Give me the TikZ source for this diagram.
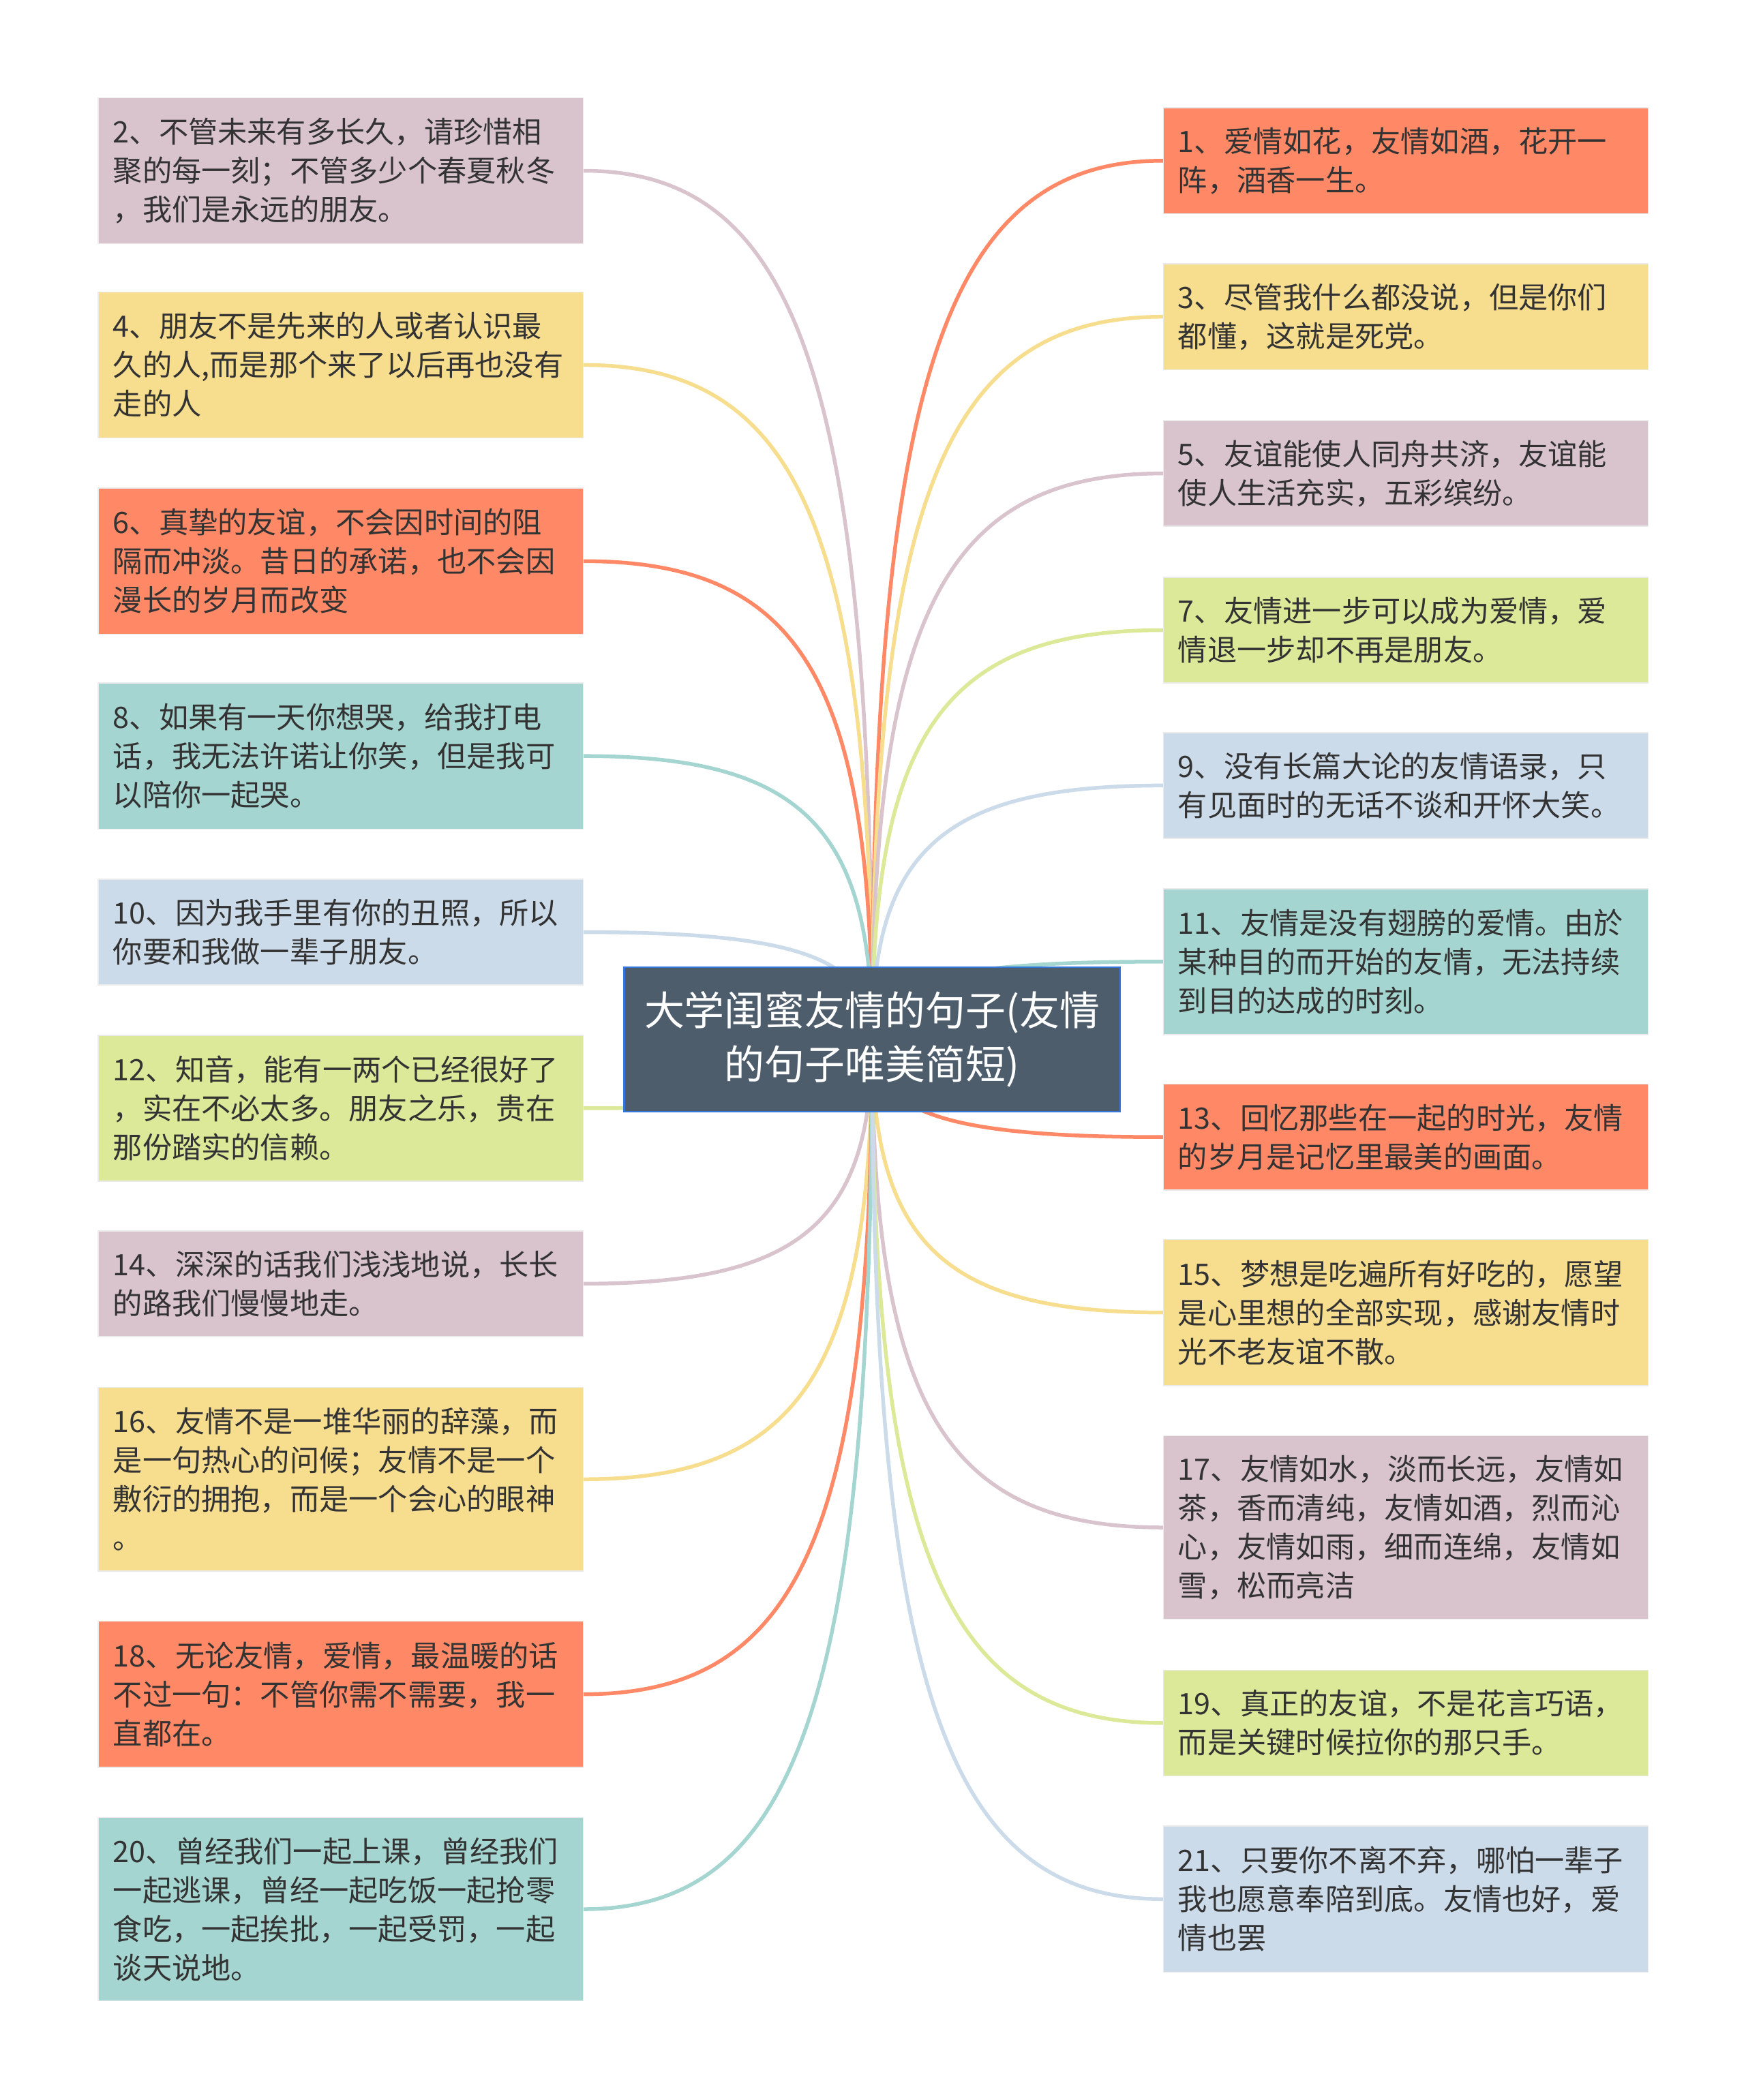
\documentclass[tikz,border=0pt]{standalone}
\usepackage{fontspec}
\setmainfont{Noto Sans CJK SC}
\usetikzlibrary{calc}

\pgfdeclarelayer{bg}
\pgfsetlayers{bg,main}

% colours of the branches
\definecolor{csalmon}{RGB}{255,137,102}
\definecolor{cmauve}{RGB}{217,196,206}
\definecolor{cyellow}{RGB}{247,221,142}
\definecolor{cteal}{RGB}{165,213,208}
\definecolor{cblue}{RGB}{204,219,234}
\definecolor{cgreen}{RGB}{220,233,152}
\definecolor{croot}{RGB}{78,93,108}
\definecolor{crootline}{RGB}{52,118,218}
\definecolor{ctext}{RGB}{51,51,51}

\tikzset{
  leaf/.style={draw=black!8, line width=0.8pt, anchor=west, text width=340pt,
    inner xsep=11pt, inner ysep=0pt, align=left, text=ctext,
    font=\fontsize{22}{29}\selectfont},
  rows2/.style={minimum height=79pt},
  rows3/.style={minimum height=109pt},
  rows4/.style={minimum height=137pt},
  root/.style={fill=croot, draw=crootline, line width=1.2pt, minimum width=370pt,
    minimum height=108pt, align=center, text=white, font=\fontsize{30}{40}\selectfont},
  branch/.style={line width=2.8pt, line cap=round,
    to path={.. controls ($(\tikztostart)!0.75!(\tikztotarget |- \tikztostart)$)
      and ($(\tikztotarget)!0.75!(\tikztotarget |- \tikztostart)$) .. (\tikztotarget)}},
}

\begin{document}
\begin{tikzpicture}[x=1pt,y=1pt,yscale=-1,xscale=1]

\useasboundingbox (0,0) rectangle (1303,1568);

% --- 中心主题 ---
\node[root] (root) at (651,776) {大学闺蜜友情的句子(友情\\的句子唯美简短)};

% --- 左侧分支 ---
\node[leaf, fill=cmauve, rows3] (n2) at (73,127.5)
  {2、不管未来有多长久，请珍惜相\\聚的每一刻；不管多少个春夏秋冬\\，我们是永远的朋友。};
\node[leaf, fill=cyellow, rows3] (n4) at (73,272.5)
  {4、朋友不是先来的人或者认识最\\久的人,而是那个来了以后再也没有\\走的人};
\node[leaf, fill=csalmon, rows3] (n6) at (73,419)
  {6、真挚的友谊，不会因时间的阻\\隔而冲淡。昔日的承诺，也不会因\\漫长的岁月而改变};
\node[leaf, fill=cteal, rows3] (n8) at (73,564.5)
  {8、如果有一天你想哭，给我打电\\话，我无法许诺让你笑，但是我可\\以陪你一起哭。};
\node[leaf, fill=cblue, rows2] (n10) at (73,696)
  {10、因为我手里有你的丑照，所以\\你要和我做一辈子朋友。};
\node[leaf, fill=cgreen, rows3] (n12) at (73,827.5)
  {12、知音，能有一两个已经很好了\\，实在不必太多。朋友之乐，贵在\\那份踏实的信赖。};
\node[leaf, fill=cmauve, rows2] (n14) at (73,958.5)
  {14、深深的话我们浅浅地说，长长\\的路我们慢慢地走。};
\node[leaf, fill=cyellow, rows4] (n16) at (73,1104.5)
  {16、友情不是一堆华丽的辞藻，而\\是一句热心的问候；友情不是一个\\敷衍的拥抱，而是一个会心的眼神\\。};
\node[leaf, fill=csalmon, rows3] (n18) at (73,1265)
  {18、无论友情，爱情，最温暖的话\\不过一句：不管你需不需要，我一\\直都在。};
\node[leaf, fill=cteal, rows4] (n20) at (73,1425.5)
  {20、曾经我们一起上课，曾经我们\\一起逃课，曾经一起吃饭一起抢零\\食吃，一起挨批，一起受罚，一起\\谈天说地。};

% --- 右侧分支 ---
\node[leaf, fill=csalmon, rows2] (n1) at (868,120)
  {1、爱情如花，友情如酒，花开一\\阵，酒香一生。};
\node[leaf, fill=cyellow, rows2] (n3) at (868,236.5)
  {3、尽管我什么都没说，但是你们\\都懂，这就是死党。};
\node[leaf, fill=cmauve, rows2] (n5) at (868,353.5)
  {5、友谊能使人同舟共济，友谊能\\使人生活充实，五彩缤纷。};
\node[leaf, fill=cgreen, rows2] (n7) at (868,470.5)
  {7、友情进一步可以成为爱情，爱\\情退一步却不再是朋友。};
\node[leaf, fill=cblue, rows2] (n9) at (868,586.5)
  {9、没有长篇大论的友情语录，只\\有见面时的无话不谈和开怀大笑。};
\node[leaf, fill=cteal, rows3] (n11) at (868,718)
  {11、友情是没有翅膀的爱情。由於\\某种目的而开始的友情，无法持续\\到目的达成的时刻。};
\node[leaf, fill=csalmon, rows2] (n13) at (868,849)
  {13、回忆那些在一起的时光，友情\\的岁月是记忆里最美的画面。};
\node[leaf, fill=cyellow, rows3] (n15) at (868,980)
  {15、梦想是吃遍所有好吃的，愿望\\是心里想的全部实现，感谢友情时\\光不老友谊不散。};
\node[leaf, fill=cmauve, rows4] (n17) at (868,1140.5)
  {17、友情如水，淡而长远，友情如\\茶，香而清纯，友情如酒，烈而沁\\心，友情如雨，细而连绵，友情如\\雪，松而亮洁};
\node[leaf, fill=cgreen, rows2] (n19) at (868,1286.5)
  {19、真正的友谊，不是花言巧语，\\而是关键时候拉你的那只手。};
\node[leaf, fill=cblue, rows3] (n21) at (868,1418)
  {21、只要你不离不弃，哪怕一辈子\\我也愿意奉陪到底。友情也好，爱\\情也罢};

% --- 连线（放在底层） ---
\begin{pgfonlayer}{bg}
  \draw[branch, cmauve]   (n2.east)  to (root.center);
  \draw[branch, cyellow]  (n4.east)  to (root.center);
  \draw[branch, csalmon]  (n6.east)  to (root.center);
  \draw[branch, cteal]    (n8.east)  to (root.center);
  \draw[branch, cblue]    (n10.east) to (root.center);
  \draw[branch, cgreen]   (n12.east) to (root.center);
  \draw[branch, cmauve]   (n14.east) to (root.center);
  \draw[branch, cyellow]  (n16.east) to (root.center);
  \draw[branch, csalmon]  (n18.east) to (root.center);
  \draw[branch, cteal]    (n20.east) to (root.center);
  \draw[branch, csalmon]  (n1.west)  to (root.center);
  \draw[branch, cyellow]  (n3.west)  to (root.center);
  \draw[branch, cmauve]   (n5.west)  to (root.center);
  \draw[branch, cgreen]   (n7.west)  to (root.center);
  \draw[branch, cblue]    (n9.west)  to (root.center);
  \draw[branch, cteal]    (n11.west) to (root.center);
  \draw[branch, csalmon]  (n13.west) to (root.center);
  \draw[branch, cyellow]  (n15.west) to (root.center);
  \draw[branch, cmauve]   (n17.west) to (root.center);
  \draw[branch, cgreen]   (n19.west) to (root.center);
  \draw[branch, cblue]    (n21.west) to (root.center);
\end{pgfonlayer}

\end{tikzpicture}
\end{document}
